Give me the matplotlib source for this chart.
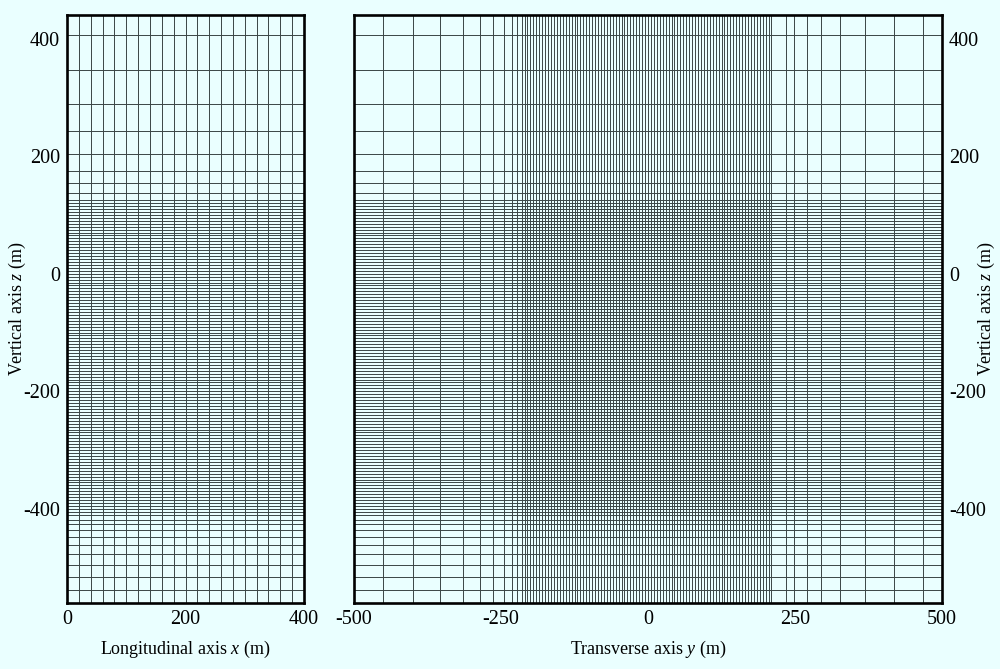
import matplotlib
matplotlib.use("Agg")
import matplotlib.pyplot as plt

# ---- data (mesh node coordinates, metres) ----
x_grid = [0, 20, 40, 60, 80, 100, 120, 140, 160, 180, 200,
          220, 240, 260, 280, 300, 320, 340, 360, 380, 400]

z_top = [440, 406, 347, 289, 242, 204, 175, 154, 138, 126]
z_fine = [120, 115, 110, 105, 100, 95, 90, 85, 80, 75, 70, 65, 60, 55, 50,
          45, 40, 35, 30, 25, 20, 15, 10, 5, 0, -5, -10, -15, -20, -25, -30,
          -35, -40, -45, -50, -55, -60, -65, -70, -75, -80, -85, -90, -95,
          -100, -105, -110, -115, -120, -125, -130, -135, -140, -145, -150,
          -155, -160, -165, -170, -175, -180, -185, -190, -195, -200, -205,
          -210, -215, -220, -225, -230, -235, -240, -245, -250, -255, -260,
          -265, -270, -275, -280, -285, -290, -295, -300, -305, -310, -315,
          -320, -325, -330, -335, -340, -345, -350, -355, -360, -365, -370,
          -375, -380, -385, -390, -395, -400, -405, -410]
z_bottom = [-418, -426, -436, -448, -462, -477, -496, -516, -538, -560]
z_grid = z_top + z_fine + z_bottom

y_left = [-500, -450, -400, -353, -315, -286, -263, -245, -231, -222, -215]
y_fine = [-210, -205, -200, -195, -190, -185, -180, -175, -170, -165, -160,
          -155, -150, -145, -140, -135, -130, -125, -120, -115, -110, -105,
          -100, -95, -90, -85, -80, -75, -70, -65, -60, -55, -50, -45, -40,
          -35, -30, -25, -20, -15, -10, -5, 0, 5, 10, 15, 20, 25, 30, 35, 40,
          45, 50, 55, 60, 65, 70, 75, 80, 85, 90, 95, 100, 105, 110, 115, 120,
          125, 130, 135, 140, 145, 150, 155, 160, 165, 170, 175, 180, 185, 190,
          195, 200, 205, 210]
y_right = [234, 249, 270, 295, 327, 369, 419, 468, 500]
y_grid = y_left + y_fine + y_right

x_ticks = [0, 200, 400]
y_ticks = [-500, -250, 0, 250, 500]
z_ticks = [400, 200, 0, -200, -400]

# ---- style ----
plt.rcParams['font.family'] = ['Liberation Serif', 'DejaVu Serif']
plt.rcParams['mathtext.fontset'] = 'custom'
plt.rcParams['mathtext.it'] = 'Liberation Serif:italic'
plt.rcParams['mathtext.rm'] = 'Liberation Serif'
bg = '#eaffff'
line_col = '#3a4646'
lw = 0.7
tick_fs = 14.5
label_fs = 13

fig = plt.figure(figsize=(10, 6.69), dpi=100, facecolor=bg)
W, H = 1000, 669
ax1 = fig.add_axes([67 / W, (H - 603) / H, 237 / W, 588 / H])
ax2 = fig.add_axes([354 / W, (H - 603) / H, 588 / W, 588 / H])

zmin, zmax = min(z_grid), max(z_grid)

def fmt(v):
    return str(v).replace('\u2212', '-')

for ax, hg, xt, xlab in ((ax1, x_grid, x_ticks, 'Longitudinal axis $x$ (m)'),
                         (ax2, y_grid, y_ticks, 'Transverse axis $y$ (m)')):
    ax.set_facecolor(bg)
    ax.vlines(hg, zmin, zmax, colors=line_col, linewidth=lw)
    ax.hlines(z_grid, min(hg), max(hg), colors=line_col, linewidth=lw)
    ax.set_xlim(min(hg), max(hg))
    ax.set_ylim(zmin, zmax)
    for s in ax.spines.values():
        s.set_linewidth(1.9)
        s.set_color('black')
        s.set_zorder(5)
    ax.set_xticks(xt)
    ax.set_xticklabels([fmt(v) for v in xt])
    ax.set_yticks(z_ticks)
    ax.set_yticklabels([fmt(v) for v in z_ticks])
    ax.tick_params(length=0, labelsize=tick_fs, pad=5)
    ax.set_xlabel(xlab, fontsize=label_fs)
    ax.xaxis.set_label_coords(0.5, (603 - 639) / 588)

ax1.set_ylabel('Vertical axis $z$ (m)', fontsize=label_fs)
ax1.yaxis.set_label_coords((28 - 67) / 237, 0.5)
ax2.yaxis.tick_right()
ax2.yaxis.set_label_position('right')
ax2.set_ylabel('Vertical axis $z$ (m)', fontsize=label_fs)
ax2.yaxis.set_label_coords((976 - 354) / 588, 0.5)

fig.savefig('out.png', dpi=100, facecolor=bg)
